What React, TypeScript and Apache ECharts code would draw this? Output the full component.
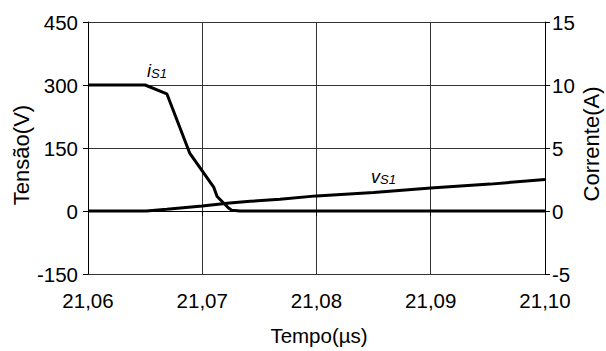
import React, { useEffect, useRef } from "react";
import * as echarts from "echarts";

const xTicks = [21.06, 21.07, 21.08, 21.09, 21.1];
const leftTicks = [-150, 0, 150, 300, 450];
const rightTicks = [-5, 0, 5, 10, 15];

const currentTime = [21.06, 21.065, 21.0669, 21.0689, 21.071, 21.0713, 21.0723, 21.0726, 21.0733, 21.1];
const currentVal = [10, 10, 9.3, 4.6, 1.9, 1.15, 0.24, 0.05, 0, 0];

const voltageTime = [21.06, 21.0651, 21.0669, 21.07, 21.0724, 21.0742, 21.0768, 21.08, 21.085, 21.09, 21.0952, 21.1];
const voltageVal = [0, 0, 4, 12, 19, 23, 28, 36, 44, 55, 64, 75];

const FONT = "'Liberation Sans', Arial, sans-serif";

export default function App() {
  const ref = useRef<HTMLDivElement>(null);
  useEffect(() => {
    if (!ref.current) return;
    const chart = echarts.init(ref.current, null, { renderer: "svg", width: 606, height: 351 });
    const axisText = { color: "#000", fontSize: 20.5, fontFamily: FONT };
    chart.setOption({
      animation: false,
      backgroundColor: "#fff",
      grid: { left: 88, top: 22, width: 457, height: 257, containLabel: false },
      xAxis: {
        type: "value",
        min: xTicks[0],
        max: xTicks[xTicks.length - 1],
        interval: 0.01,
        name: "Tempo(µs)",
        nameLocation: "middle",
        nameGap: 51,
        nameTextStyle: { ...axisText, padding: [0, 0, 0, 5] },
        axisLine: { show: true, lineStyle: { color: "#000", width: 1 } },
        axisTick: { show: true, inside: false, length: 5, lineStyle: { color: "#000" } },
        axisLabel: {
          ...axisText,
          margin: 16,
          formatter: (v: number) => v.toFixed(2).replace(".", ","),
        },
        splitLine: { show: true, lineStyle: { color: "#333", width: 1 } },
      },
      yAxis: [
        {
          type: "value",
          position: "left",
          min: leftTicks[0],
          max: leftTicks[leftTicks.length - 1],
          interval: 150,
          axisLine: { show: true, onZero: false, lineStyle: { color: "#000", width: 1 } },
          axisTick: { show: true, inside: false, length: 5, lineStyle: { color: "#000" } },
          axisLabel: { ...axisText, margin: 10 },
          splitLine: { show: true, lineStyle: { color: "#333", width: 1 } },
        },
        {
          type: "value",
          position: "right",
          min: rightTicks[0],
          max: rightTicks[rightTicks.length - 1],
          interval: 5,
          axisLine: { show: true, onZero: false, lineStyle: { color: "#000", width: 1 } },
          axisTick: { show: true, inside: false, length: 5, lineStyle: { color: "#000" } },
          axisLabel: { ...axisText, margin: 7 },
          splitLine: { show: false },
        },
      ],
      series: [
        {
          type: "line",
          name: "vS1",
          yAxisIndex: 0,
          data: voltageTime.map((t, i) => [t, voltageVal[i]]),
          showSymbol: false,
          lineStyle: { color: "#000", width: 3 },
          itemStyle: { color: "#000" },
        },
        {
          type: "line",
          name: "iS1",
          yAxisIndex: 1,
          data: currentTime.map((t, i) => [t, currentVal[i]]),
          showSymbol: false,
          lineStyle: { color: "#000", width: 3 },
          itemStyle: { color: "#000" },
        },
      ],
      graphic: [
        {
          type: "text",
          x: 21,
          y: 155,
          rotation: Math.PI / 2,
          style: {
            text: "Tensão(V)",
            fontSize: 22,
            fontFamily: FONT,
            fill: "#000",
            align: "center",
            verticalAlign: "middle",
          },
        },
        {
          type: "text",
          x: 591,
          y: 144,
          rotation: Math.PI / 2,
          style: {
            text: "Corrente(A)",
            fontSize: 22,
            fontFamily: FONT,
            fill: "#000",
            align: "center",
            verticalAlign: "middle",
          },
        },
        {
          type: "text",
          left: 147,
          top: 62,
          style: {
            text: "{a|i}{b|S1}",
            rich: {
              a: { fontSize: 18, fontStyle: "italic", fontFamily: FONT, fill: "#000", verticalAlign: "bottom" },
              b: { fontSize: 13, fontStyle: "italic", fontFamily: FONT, fill: "#000", padding: [6, 0, 0, 0], verticalAlign: "bottom" },
            },
          },
        },
        {
          type: "text",
          left: 371,
          top: 168,
          style: {
            text: "{a|v}{b|S1}",
            rich: {
              a: { fontSize: 18, fontStyle: "italic", fontFamily: FONT, fill: "#000", verticalAlign: "bottom" },
              b: { fontSize: 13, fontStyle: "italic", fontFamily: FONT, fill: "#000", padding: [6, 0, 0, 0], verticalAlign: "bottom" },
            },
          },
        },
      ],
    });
    return () => chart.dispose();
  }, []);
  return (
    <div
      ref={ref}
      style={{ position: "fixed", left: 0, top: 0, width: 606, height: 351 }}
    />
  );
}
